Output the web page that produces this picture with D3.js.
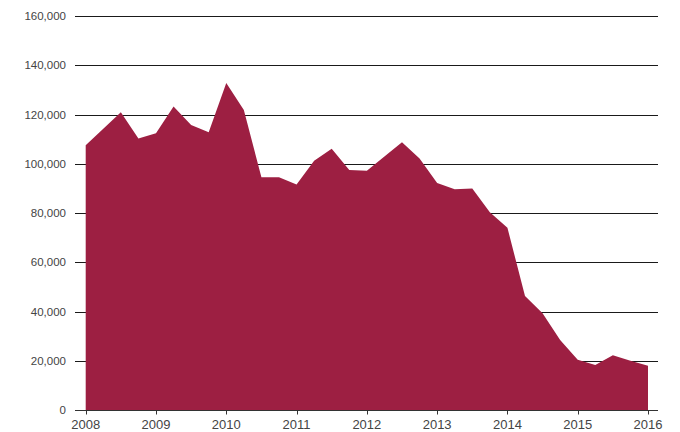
<!DOCTYPE html>
<html>
<head>
<meta charset="utf-8">
<script src="https://cdn.jsdelivr.net/npm/d3@7"></script>
<style>
  html, body { margin: 0; padding: 0; background: #fff; }
  svg { display: block; }
  text { font-family: "Liberation Sans", Arial, Helvetica, sans-serif; fill: #444; }
</style>
</head>
<body>
<svg id="chart" width="680" height="432"></svg>
<script>
// Quarterly values, 2008 Q1 through 2016 Q1
const quarters = [
  2008.00, 2008.25, 2008.50, 2008.75,
  2009.00, 2009.25, 2009.50, 2009.75,
  2010.00, 2010.25, 2010.50, 2010.75,
  2011.00, 2011.25, 2011.50, 2011.75,
  2012.00, 2012.25, 2012.50, 2012.75,
  2013.00, 2013.25, 2013.50, 2013.75,
  2014.00, 2014.25, 2014.50, 2014.75,
  2015.00, 2015.25, 2015.50, 2015.75,
  2016.00
];
const values = [
  107500, 114200, 120900, 110300,
  112400, 123200, 115700, 112800,
  132800, 121800, 94500, 94500,
  91600, 101200, 106100, 97500,
  97200, 102900, 108700, 102100,
  92200, 89600, 90000, 80300,
  74000, 46300, 39300, 28400,
  20400, 18300, 22200, 20000,
  18000
];
const yearTicks = [2008, 2009, 2010, 2011, 2012, 2013, 2014, 2015, 2016];
const valueTicks = [0, 20000, 40000, 60000, 80000, 100000, 120000, 140000, 160000];

const data = quarters.map((q, i) => ({ q, v: values[i] }));

const svg = d3.select("#chart");
const gridLeft = 75, gridRight = 658;

const x = d3.scaleLinear().domain([2008, 2016]).range([85.7, 648]);
const y = d3.scaleLinear().domain([0, 160000]).range([410, 16]);

// Horizontal gridlines with value labels
const grid = svg.append("g");
grid.selectAll("line")
  .data(valueTicks.filter(d => d > 0))
  .join("line")
  .attr("x1", gridLeft).attr("x2", gridRight)
  .attr("y1", d => Math.round(y(d)) + 0.5)
  .attr("y2", d => Math.round(y(d)) + 0.5)
  .attr("stroke", "#1a1a1a")
  .attr("stroke-width", 1);

svg.append("g").selectAll("text")
  .data(valueTicks)
  .join("text")
  .attr("x", 66)
  .attr("y", d => y(d))
  .attr("dy", "0.36em")
  .attr("text-anchor", "end")
  .attr("font-size", 11.5)
  .text(d => d3.format(",")(d));

// Filled area
const area = d3.area()
  .x(d => x(d.q))
  .y0(y(0))
  .y1(d => y(d.v));

svg.append("path")
  .datum(data)
  .attr("d", area)
  .attr("fill", "#9d1f42");

// Bottom axis
const axisY = Math.round(y(0)) + 0.5;
svg.append("line")
  .attr("x1", gridLeft).attr("x2", gridRight)
  .attr("y1", axisY).attr("y2", axisY)
  .attr("stroke", "#333").attr("stroke-width", 1);

const xt = svg.append("g");
xt.selectAll("line")
  .data(yearTicks)
  .join("line")
  .attr("x1", d => Math.round(x(d)) + 0.5)
  .attr("x2", d => Math.round(x(d)) + 0.5)
  .attr("y1", axisY).attr("y2", axisY + 4)
  .attr("stroke", "#333");
xt.selectAll("text")
  .data(yearTicks)
  .join("text")
  .attr("x", d => x(d))
  .attr("y", 429)
  .attr("text-anchor", "middle")
  .attr("font-size", 13)
  .text(d => d);
</script>
</body>
</html>
